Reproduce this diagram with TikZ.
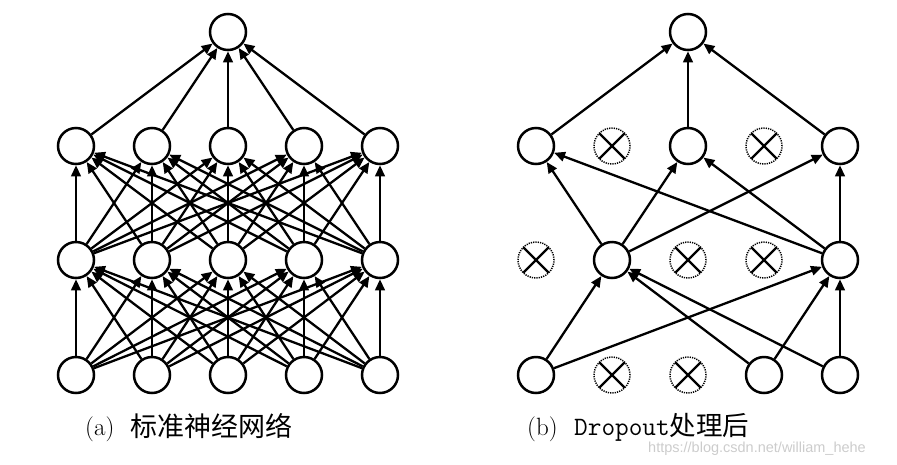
\documentclass[tikz,border=0pt]{standalone}
\usepackage{fontspec}
\newfontfamily\cjk{Noto Sans CJK SC}
\newfontfamily\wmfont{Liberation Sans}
\newfontfamily\lmmono{Latin Modern Mono}
\usetikzlibrary{arrows.meta}
\tikzset{
  neuron/.style={circle,draw,line width=2.5pt,minimum size=36pt,inner sep=0pt,fill=white},
  dropped/.style={circle,draw,line width=1.5pt,dash pattern=on 1.2pt off 1.1pt,minimum size=36pt,inner sep=0pt,
    path picture={\draw[line width=2.4pt,solid] (path picture bounding box.south west) -- (path picture bounding box.north east)
      (path picture bounding box.north west) -- (path picture bounding box.south east);}},
  conn/.style={line width=2.3pt,-{Triangle[length=11pt,width=9.5pt]}},
  lbl/.style={anchor=base west,inner sep=0pt}
}
\begin{document}
\begin{tikzpicture}[x=1pt,y=-1pt]
\useasboundingbox (0,0) rectangle (897,464);
% ---------- left: standard network ----------
\foreach \i/\x in {1/76,2/152,3/228,4/304,5/380}{
  \node[neuron] (La\i) at (\x,375) {};
  \node[neuron] (Lb\i) at (\x,260) {};
  \node[neuron] (Lc\i) at (\x,146) {};
}
\node[neuron] (Lt) at (228,32) {};
\foreach \i in {1,...,5}{
  \foreach \j in {1,...,5}{
    \draw[conn] (La\i) -- (Lb\j);
    \draw[conn] (Lb\i) -- (Lc\j);
  }
  \draw[conn] (Lc\i) -- (Lt);
}
% ---------- right: after dropout ----------
\node[neuron] (Ra1) at (536,375) {};
\node[dropped] (Ra2) at (612,375) {};
\node[dropped] (Ra3) at (688,375) {};
\node[neuron] (Ra4) at (764,375) {};
\node[neuron] (Ra5) at (840,375) {};
\node[dropped] (Rb1) at (536,260) {};
\node[neuron] (Rb2) at (612,260) {};
\node[dropped] (Rb3) at (688,260) {};
\node[dropped] (Rb4) at (764,260) {};
\node[neuron] (Rb5) at (840,260) {};
\node[neuron] (Rc1) at (536,146) {};
\node[dropped] (Rc2) at (612,146) {};
\node[neuron] (Rc3) at (688,146) {};
\node[dropped] (Rc4) at (764,146) {};
\node[neuron] (Rc5) at (840,146) {};
\node[neuron] (Rt) at (688,32) {};
\foreach \i in {1,4,5}{
  \foreach \j in {2,5}{
    \draw[conn] (Ra\i) -- (Rb\j);
  }
}
\foreach \i in {2,5}{
  \foreach \j in {1,3,5}{
    \draw[conn] (Rb\i) -- (Rc\j);
  }
}
\foreach \i in {1,3,5}{
  \draw[conn] (Rc\i) -- (Rt);
}
% ---------- captions ----------
\node[lbl,font=\fontsize{25}{30}\selectfont] (capa) at (85,435) {(a)};
\node[lbl,font=\fontsize{27}{30}\selectfont\cjk] (capac) at (130,436) {标准神经网络};
\node[lbl,font=\fontsize{25}{30}\selectfont] (capb) at (527,435) {(b)};
\node[lbl] (capbd) at (574,435) {\fontsize{26.5}{30}\selectfont\lmmono Dropout\cjk\fontsize{26.5}{30}\selectfont 处理后};
\node[lbl,font=\fontsize{14.5}{17}\selectfont\wmfont,text=black!20] (wm) at (648,452) {https://blog.csdn.net/william\_hehe};
\end{tikzpicture}
\end{document}
